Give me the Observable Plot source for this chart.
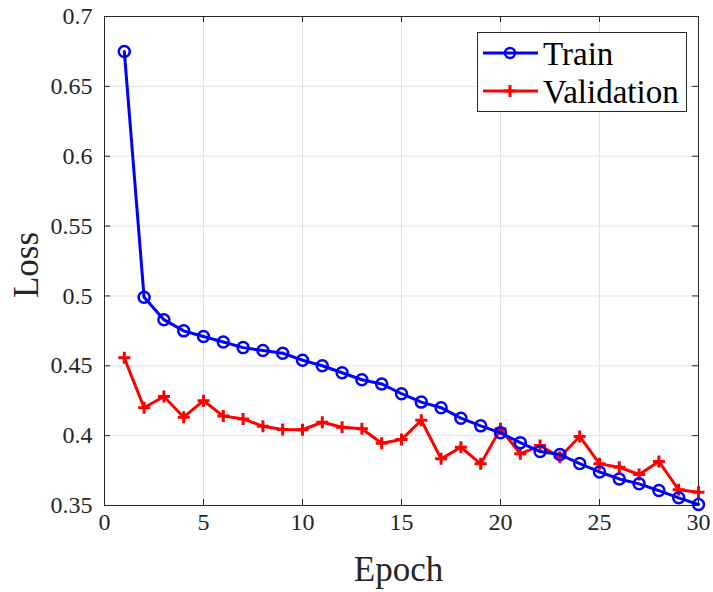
<!DOCTYPE html>
<html><head><meta charset="utf-8">
<script src="https://cdn.jsdelivr.net/npm/d3@7"></script>
<script src="https://cdn.jsdelivr.net/npm/@observablehq/plot@0.6"></script>
<style>
body{margin:0;background:#fff}
#wrap{position:relative;width:713px;height:592px;font-family:"Liberation Serif","Times New Roman",serif}
#wrap svg, #wrap svg text{font-family:"Liberation Serif","Times New Roman",serif !important}
#legend{position:absolute;left:477px;top:32px}
</style></head><body>
<div id="wrap"></div>
<script>
const epochs = [1,2,3,4,5,6,7,8,9,10,11,12,13,14,15,16,17,18,19,20,21,22,23,24,25,26,27,28,29,30];
const trainLoss = [0.675,0.499,0.483,0.475,0.471,0.467,0.463,0.461,0.459,0.454,0.450,0.445,0.440,0.437,0.430,0.424,0.420,0.4125,0.407,0.402,0.395,0.3886,0.3865,0.380,0.374,0.369,0.3655,0.3607,0.3555,0.3507];
const valLoss = [0.4557,0.420,0.428,0.4132,0.425,0.414,0.412,0.4067,0.4044,0.4042,0.4096,0.406,0.4049,0.3946,0.3972,0.411,0.3834,0.3917,0.3798,0.4049,0.387,0.3929,0.3845,0.3994,0.3798,0.3774,0.3722,0.3815,0.3612,0.3595];
const xTicks = [0,5,10,15,20,25,30];
const yTicks = [0.35,0.4,0.45,0.5,0.55,0.6,0.65,0.7];
const seriesNames = ["Train","Validation"];
const seriesColors = ["#0000ff","#ff0000"];

const train = epochs.map((e,i)=>({epoch:e, loss:trainLoss[i]}));
const val = epochs.map((e,i)=>({epoch:e, loss:valLoss[i]}));

const plusSymbol = {draw(context, size){const r = Math.sqrt(size/Math.PI); context.moveTo(-r,0); context.lineTo(r,0); context.moveTo(0,-r); context.lineTo(0,r);}};

const W=713,H=592,mL=104,mR=15,mT=16,mB=87;
const pw=W-mL-mR, ph=H-mT-mB, tl=6;
const axisColor="#262626", gridColor="#e3e3e3";
const serif = "Liberation Serif";

const chart = Plot.plot({
  width: W, height: H,
  marginLeft: mL, marginRight: mR, marginTop: mT, marginBottom: mB,
  style: {fontFamily: serif, fontSize: "24px", color: axisColor, background: "#fff"},
  x: {domain: [0,30]},
  y: {domain: [0.35,0.7]},
  marks: [
    Plot.gridX(xTicks.slice(1,-1), {stroke: gridColor, strokeOpacity: 1}),
    Plot.gridY(yTicks.slice(1,-1), {stroke: gridColor, strokeOpacity: 1}),
    Plot.axisX({ticks: xTicks, tickSize: 0, tickPadding: 7, tickFormat: d=>String(d), label: null, fontSize: 24, fontFamily: serif}),
    Plot.axisY({ticks: yTicks, tickSize: 0, tickPadding: 12, tickFormat: d=>String(d), label: null, fontSize: 24, fontFamily: serif}),
    Plot.tickX(xTicks, {x: d=>d, insetTop: ph-tl, stroke: axisColor}),
    Plot.tickX(xTicks, {x: d=>d, insetBottom: ph-tl, stroke: axisColor}),
    Plot.tickY(yTicks, {y: d=>d, insetRight: pw-tl, stroke: axisColor}),
    Plot.tickY(yTicks, {y: d=>d, insetLeft: pw-tl, stroke: axisColor}),
    Plot.frame({stroke: axisColor}),
    Plot.line(val, {x: "epoch", y: "loss", stroke: seriesColors[1], strokeWidth: 3}),
    Plot.dot(val, {x: "epoch", y: "loss", symbol: plusSymbol, r: 6, fill: "none", stroke: seriesColors[1], strokeWidth: 3}),
    Plot.line(train, {x: "epoch", y: "loss", stroke: seriesColors[0], strokeWidth: 3}),
    Plot.dot(train, {x: "epoch", y: "loss", r: 5.5, fill: "none", stroke: seriesColors[0], strokeWidth: 2.5}),
    Plot.text(["Epoch"], {frameAnchor: "bottom", textAnchor: "middle", lineAnchor: "middle", dy: 64, dx: -3, fontSize: 35, fontFamily: serif, fill: axisColor}),
    Plot.text(["Loss"], {frameAnchor: "left", textAnchor: "middle", lineAnchor: "middle", dx: -78, dy: 4, rotate: -90, fontSize: 35, fontFamily: serif, fill: axisColor})
  ]
});
document.getElementById("wrap").appendChild(chart);

// legend
const lg = d3.select("#wrap").append("svg").attr("id","legend").attr("width",211).attr("height",81)
  .attr("font-family", serif);
lg.append("rect").attr("x",0.5).attr("y",0.5).attr("width",209).attr("height",79).attr("fill","#fff").attr("stroke",axisColor);
const rows = [21, 59];
seriesNames.forEach((name,i)=>{
  const y = rows[i];
  lg.append("line").attr("x1",6).attr("x2",61).attr("y1",y).attr("y2",y).attr("stroke",seriesColors[i]).attr("stroke-width",3);
  if (i===0) lg.append("circle").attr("cx",33).attr("cy",y).attr("r",5).attr("fill","none").attr("stroke",seriesColors[i]).attr("stroke-width",2.5);
  else lg.append("path").attr("d",`M${33-6},${y}H${33+6}M33,${y-6}V${y+6}`).attr("stroke",seriesColors[i]).attr("stroke-width",3);
  lg.append("text").attr("x",66).attr("y",y+12).attr("font-size",33).attr("font-family",serif).attr("fill","#000").text(name);
});
</script>
</body></html>
